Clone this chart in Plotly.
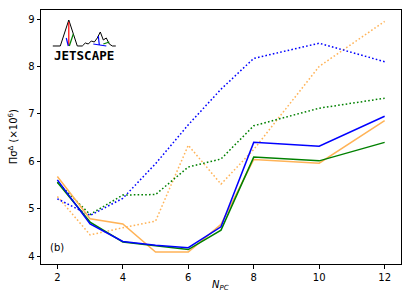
import plotly.graph_objects as go

n_pc = [2, 3, 4, 5, 6, 7, 8, 10, 12]

blue_solid = [5.61, 4.68, 4.31, 4.23, 4.18, 4.62, 6.40, 6.32, 6.95]
orange_solid = [5.68, 4.79, 4.68, 4.09, 4.09, 4.67, 6.04, 5.96, 6.86]
green_solid = [5.56, 4.72, 4.30, 4.22, 4.14, 4.55, 6.09, 6.01, 6.40]
blue_dot = [5.21, 4.86, 5.22, 5.95, 6.77, 7.52, 8.17, 8.49, 8.10]
green_dot = [5.56, 4.88, 5.29, 5.30, 5.88, 6.05, 6.75, 7.12, 7.33]
orange_dot = [5.26, 4.45, 4.60, 4.74, 6.34, 5.52, 6.25, 8.00, 8.95]

x_ticks = [2, 4, 6, 8, 10, 12]
y_ticks = [4, 5, 6, 7, 8, 9]

BLUE = "#0000ff"
GREEN = "#008000"
ORANGE = "#ffb357"
DOT = "1.6px,2.2px"

series = [
    (orange_dot, ORANGE, DOT),
    (green_dot, GREEN, DOT),
    (blue_dot, BLUE, DOT),
    (orange_solid, ORANGE, "solid"),
    (green_solid, GREEN, "solid"),
    (blue_solid, BLUE, "solid"),
]

fig = go.Figure()
for ys, col, dash in series:
    fig.add_trace(go.Scatter(x=n_pc, y=ys, mode="lines",
                             line=dict(color=col, width=1.5, dash=dash),
                             showlegend=False, hoverinfo="skip"))

W, H = 411, 308
L, R, T, B = 40.7, 10.3, 10, 44
pw, ph = W - L - R, H - T - B


def px(x, y):
    return (x - L) / pw, (H - B - y) / ph


# JETSCAPE logo (decoration)
mountain = [(52.5, 46), (60, 46), (68.5, 20), (77, 46), (82, 46), (85, 43), (88, 44),
            (91, 41), (94, 42), (97, 38), (100, 32), (103, 40), (106, 38), (109, 44),
            (112, 46), (115.5, 46)]
path = "M " + " L ".join(f"{px(a, b)[0]:.4f},{px(a, b)[1]:.4f}" for a, b in mountain)
fig.add_shape(type="path", path=path, xref="paper", yref="paper",
              line=dict(color="black", width=1))
for (a1, b1, a2, b2, c) in [(68.5, 22, 68.5, 46, "red"), (66, 38, 68, 46, BLUE),
                             (69, 46, 73, 34, GREEN), (93, 44, 106, 46, BLUE),
                             (98, 36, 99, 45, BLUE), (103, 44, 109, 42, GREEN)]:
    p1, p2 = px(a1, b1), px(a2, b2)
    fig.add_shape(type="line", x0=p1[0], y0=p1[1], x1=p2[0], y1=p2[1],
                  xref="paper", yref="paper", line=dict(color=c, width=1.2))
lx, ly = px(84, 55)
fig.add_annotation(x=lx, y=ly, xref="paper", yref="paper", text="<b>JETSCAPE</b>",
                   showarrow=False, font=dict(family="DejaVu Sans Mono", size=12.5, color="black"),
                   xanchor="center", yanchor="middle")

fig.add_annotation(x=2.0, y=4.18, xref="x", yref="y", text="(b)", showarrow=False,
                   font=dict(family="DejaVu Sans", size=10, color="black"),
                   xanchor="center", yanchor="middle")

ax, ay = px(13, 137)
fig.add_annotation(x=ax, y=ay, xref="paper", yref="paper",
                   text="Πσ<sup>Δ</sup> (×10<sup>6</sup>)", textangle=-90, showarrow=False,
                   font=dict(family="DejaVu Sans", size=10, color="black"),
                   xanchor="center", yanchor="middle")
bx, by = px(220, 285)
fig.add_annotation(x=bx, y=by, xref="paper", yref="paper",
                   text="<i>N</i><sub><i>PC</i></sub>", showarrow=False,
                   font=dict(family="DejaVu Sans", size=10, color="black"),
                   xanchor="center", yanchor="middle")

axis_common = dict(showline=True, linecolor="black", linewidth=1, mirror=True,
                   ticks="outside", ticklen=3.5, tickwidth=1, tickcolor="black",
                   showgrid=False, zeroline=False,
                   tickfont=dict(family="DejaVu Sans", size=10, color="black"))

fig.update_layout(
    width=W, height=H,
    margin=dict(l=L, r=R, t=T, b=B, autoexpand=False),
    paper_bgcolor="white", plot_bgcolor="white",
    xaxis=dict(range=[1.5, 12.5], tickvals=x_ticks, **axis_common),
    yaxis=dict(range=[3.836, 9.19], tickvals=y_ticks, **axis_common),
)

fig.write_html("out.html", config={"displayModeBar": False},
               post_script="document.body.style.margin='0';")
